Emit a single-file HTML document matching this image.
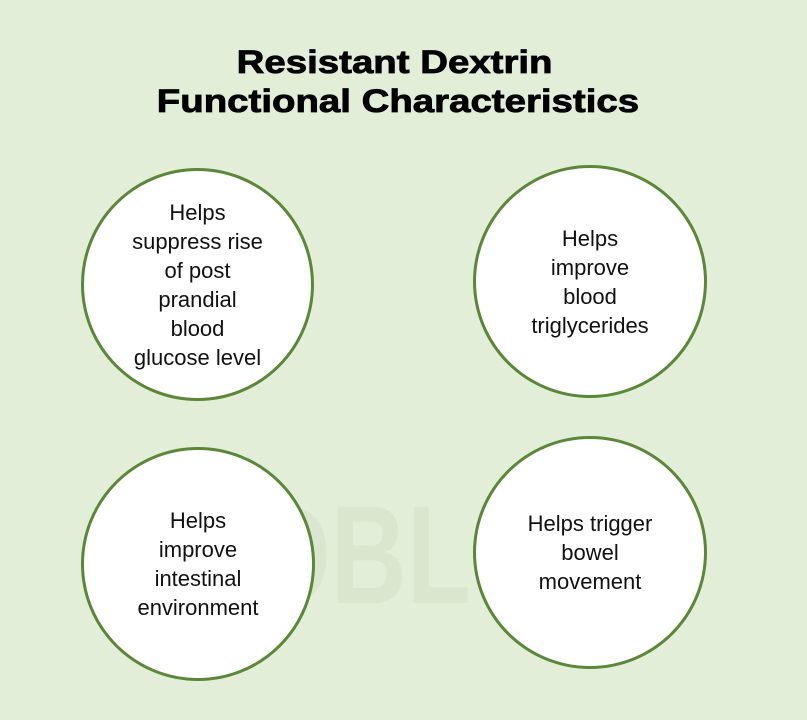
<!DOCTYPE html>
<html><head><meta charset="utf-8"><style>
html,body{margin:0;padding:0}
body{width:807px;height:720px;background:#e2eed8;position:relative;overflow:hidden;font-family:"Liberation Sans",sans-serif}
.t{position:absolute;left:0;width:790px;text-align:center;font-weight:bold;font-size:32px;color:#000;line-height:39px;-webkit-text-stroke:0.8px #000}
.t span{display:inline-block;transform:scaleX(1.2);transform-origin:center}
.c{position:absolute;border-radius:50%;background:#fff;border:3px solid #5a8738;box-sizing:border-box;display:flex;align-items:center;justify-content:center;text-align:center;font-size:22px;line-height:29px;color:#111}
.wm{position:absolute;left:185px;top:480px;font-size:140px;font-weight:bold;color:#dae7cf;transform:scaleX(0.75);transform-origin:left top;line-height:150px}
</style></head><body>
<div class="wm">SDBLCY</div>
<div class="t" style="top:43px"><span>Resistant Dextrin</span></div>
<div class="t" style="top:82px;left:3px"><span>Functional Characteristics</span></div>
<div class="c" style="left:81px;top:168px;width:233px;height:233px"><div style="width:150px">Helps<br>suppress rise<br>of post<br>prandial<br>blood<br>glucose level</div></div>
<div class="c" style="left:473px;top:165px;width:234px;height:233px"><div>Helps<br>improve<br>blood<br>triglycerides</div></div>
<div class="c" style="left:81px;top:447px;width:234px;height:234px"><div>Helps<br>improve<br>intestinal<br>environment</div></div>
<div class="c" style="left:473px;top:436px;width:234px;height:233px"><div>Helps trigger<br>bowel<br>movement</div></div>
</body></html>
